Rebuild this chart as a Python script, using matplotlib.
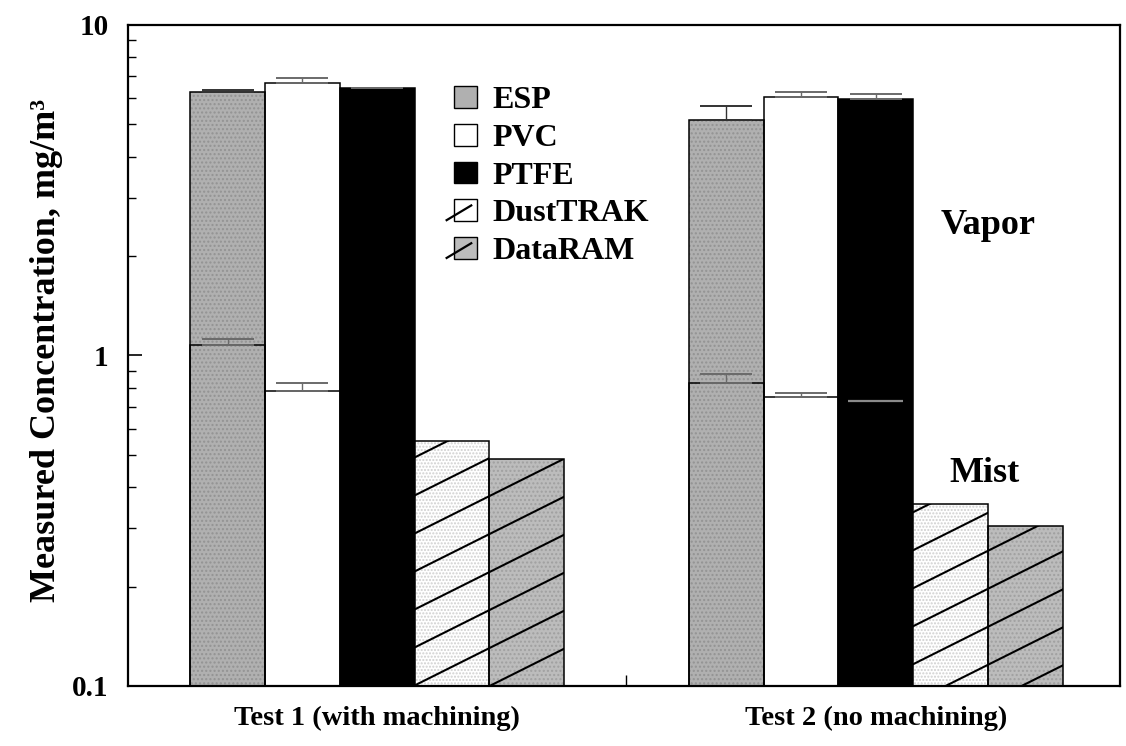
import numpy as np
import matplotlib
matplotlib.use("Agg")
import matplotlib.pyplot as plt
from matplotlib.patches import Rectangle, Patch
from matplotlib.lines import Line2D
from matplotlib.collections import LineCollection
from matplotlib.legend_handler import HandlerPatch
from matplotlib.ticker import FixedLocator, NullFormatter

plt.rcParams['font.family'] = ['Liberation Serif', 'DejaVu Serif']
plt.rcParams['font.weight'] = 'bold'
plt.rcParams['axes.labelweight'] = 'bold'

# data (mg/m3)
tests = ["Test 1 (with machining)", "Test 2 (no machining)"]
samplers = ["ESP", "PVC", "PTFE", "DustTRAK", "DataRAM"]

esp_total = [6.28, 5.16]
esp_total_err = [6.35, 5.69]
esp_mist = [1.076, 0.827]
esp_mist_err = [1.12, 0.879]

pvc_total = [6.67, 6.04]
pvc_total_err = [6.93, 6.25]
pvc_mist = [0.783, 0.750]
pvc_mist_err = [0.824, 0.768]

ptfe_total = [6.43, 5.97]
ptfe_total_err = [6.43, 6.17]
ptfe_mist = [np.nan, 0.730]

dusttrak = [0.551, 0.356]
dataram = [0.486, 0.305]

ymin = 0.1
W, H = 1126, 746
fig = plt.figure(figsize=(W / 100, H / 100), dpi=100)
ax = fig.add_axes([128 / W, 1 - 686 / H, 992 / W, 661 / H])
ax.set_yscale('log')
ax.set_ylim(0.1, 10)
ax.set_xlim(-0.5, 1.49)

x = np.arange(len(tests))
w = 0.15
xs = {s: x + (i - 2) * w for i, s in enumerate(samplers)}

esp_col = '#b0b0b0'
esp_dot = '#939393'
dr_col = '#bcbcbc'


def bars(xpos, top, face, hatch=None, hcol=None):
    top = np.asarray(top)
    ok = ~np.isnan(top)
    if hatch:
        ax.bar(xpos[ok], top[ok] - ymin, w, bottom=ymin, color=face,
               edgecolor=hcol, hatch=hatch, linewidth=0, zorder=2)
        return ax.bar(xpos[ok], top[ok] - ymin, w, bottom=ymin, fill=False,
                      edgecolor='black', linewidth=1.1, zorder=3)
    return ax.bar(xpos[ok], top[ok] - ymin, w, bottom=ymin, color=face,
                  edgecolor='black', linewidth=1.1, zorder=2)


def errs(xpos, top, hi, col='#6a6a6a'):
    top = np.asarray(top)
    hi = np.asarray(hi)
    ax.errorbar(xpos, top, yerr=[np.zeros_like(top), hi - top], fmt='none',
                ecolor=col, elinewidth=1, capsize=19, capthick=1.4, zorder=4)


# ESP: total then mist part on top of it
bars(xs["ESP"], esp_total, esp_col, '....', esp_dot)
errs(xs["ESP"], esp_total, esp_total_err, '#333333')
bars(xs["ESP"], esp_mist, esp_col, '....', esp_dot)
errs(xs["ESP"], esp_mist, esp_mist_err)

# PVC
bars(xs["PVC"], pvc_total, 'white')
errs(xs["PVC"], pvc_total, pvc_total_err)
bars(xs["PVC"], pvc_mist, 'white')
errs(xs["PVC"], pvc_mist, pvc_mist_err)

# PTFE
bars(xs["PTFE"], ptfe_total, 'black')
errs(xs["PTFE"], ptfe_total, ptfe_total_err)
pm = np.asarray(ptfe_mist)
ok = ~np.isnan(pm)
ax.hlines(pm[ok], xs["PTFE"][ok] - 0.055, xs["PTFE"][ok] + 0.055,
          color='#8a8a8a', lw=1.6, zorder=4)

# direct-reading instruments
dt_bars = bars(xs["DustTRAK"], dusttrak, 'white', '.....', '#cfcfcf')
dr_bars = bars(xs["DataRAM"], dataram, dr_col, '....', '#a0a0a0')

# shallow diagonal hatch lines, clipped to the instrument bars
slope = 0.5 * 992 / 661
gap = 38 / 661
segs = [[(0, c), (1, c + slope)] for c in -0.216 + gap * np.arange(-30, 20)]
for b in list(dt_bars) + list(dr_bars):
    lc = LineCollection(segs, colors='black', linewidths=1.5,
                        transform=ax.transAxes, zorder=3)
    ax.add_collection(lc)
    lc.set_clip_path(b)

# annotations
ax.text(1.225, 2.47, "Vapor", fontsize=26, ha='center', va='center')
ax.text(1.219, 0.438, "Mist", fontsize=26, ha='center', va='center')

# axes styling
for sp in ax.spines.values():
    sp.set_linewidth(1.6)
ax.yaxis.set_major_locator(FixedLocator([0.1, 1, 10]))
ax.set_yticklabels(["0.1", "1", "10"])
ax.yaxis.set_minor_locator(FixedLocator(
    [v * d for d in (0.1, 1) for v in range(2, 10)]))
ax.yaxis.set_minor_formatter(NullFormatter())
ax.tick_params(axis='y', which='major', direction='in', length=10,
               width=1.2, labelsize=21, pad=14)
ax.tick_params(axis='y', which='minor', direction='in', length=6, width=1)
ax.set_xticks(x)
ax.set_xticklabels(tests)
ax.xaxis.set_minor_locator(FixedLocator([0.5]))
ax.tick_params(axis='x', which='major', length=0, labelsize=20.5, pad=14)
ax.tick_params(axis='x', which='minor', direction='in', length=8, width=1)
ax.set_ylabel("Measured Concentration, mg/m³", fontsize=26)
ax.yaxis.set_label_coords(-0.066, 0.508)


class SlashHandler(HandlerPatch):
    def create_artists(self, legend, orig_handle, xdescent, ydescent,
                       width, height, fontsize, trans):
        x0, y0 = -xdescent, -ydescent
        r = Rectangle((x0, y0), width, height,
                      facecolor=orig_handle.get_facecolor(),
                      edgecolor='black', lw=1, transform=trans)
        ln = Line2D([x0 - 0.35 * width, x0 + 0.75 * width],
                    [y0 + 0.05 * height, y0 + 0.72 * height],
                    color='black', lw=1.6, transform=trans)
        return [r, ln]


handles = [Patch(facecolor=esp_col, edgecolor='black'),
           Patch(facecolor='white', edgecolor='black'),
           Patch(facecolor='black', edgecolor='black'),
           Patch(facecolor='white', edgecolor='black'),
           Patch(facecolor=dr_col, edgecolor='black')]
leg = ax.legend(handles, samplers, loc='upper left',
                bbox_to_anchor=(0.313, 0.932), frameon=False, fontsize=23,
                handlelength=0.7, handleheight=0.68, handletextpad=0.5,
                labelspacing=0.27, borderpad=0,
                handler_map={handles[3]: SlashHandler(),
                             handles[4]: SlashHandler()})

fig.savefig("out.png", dpi=100)
